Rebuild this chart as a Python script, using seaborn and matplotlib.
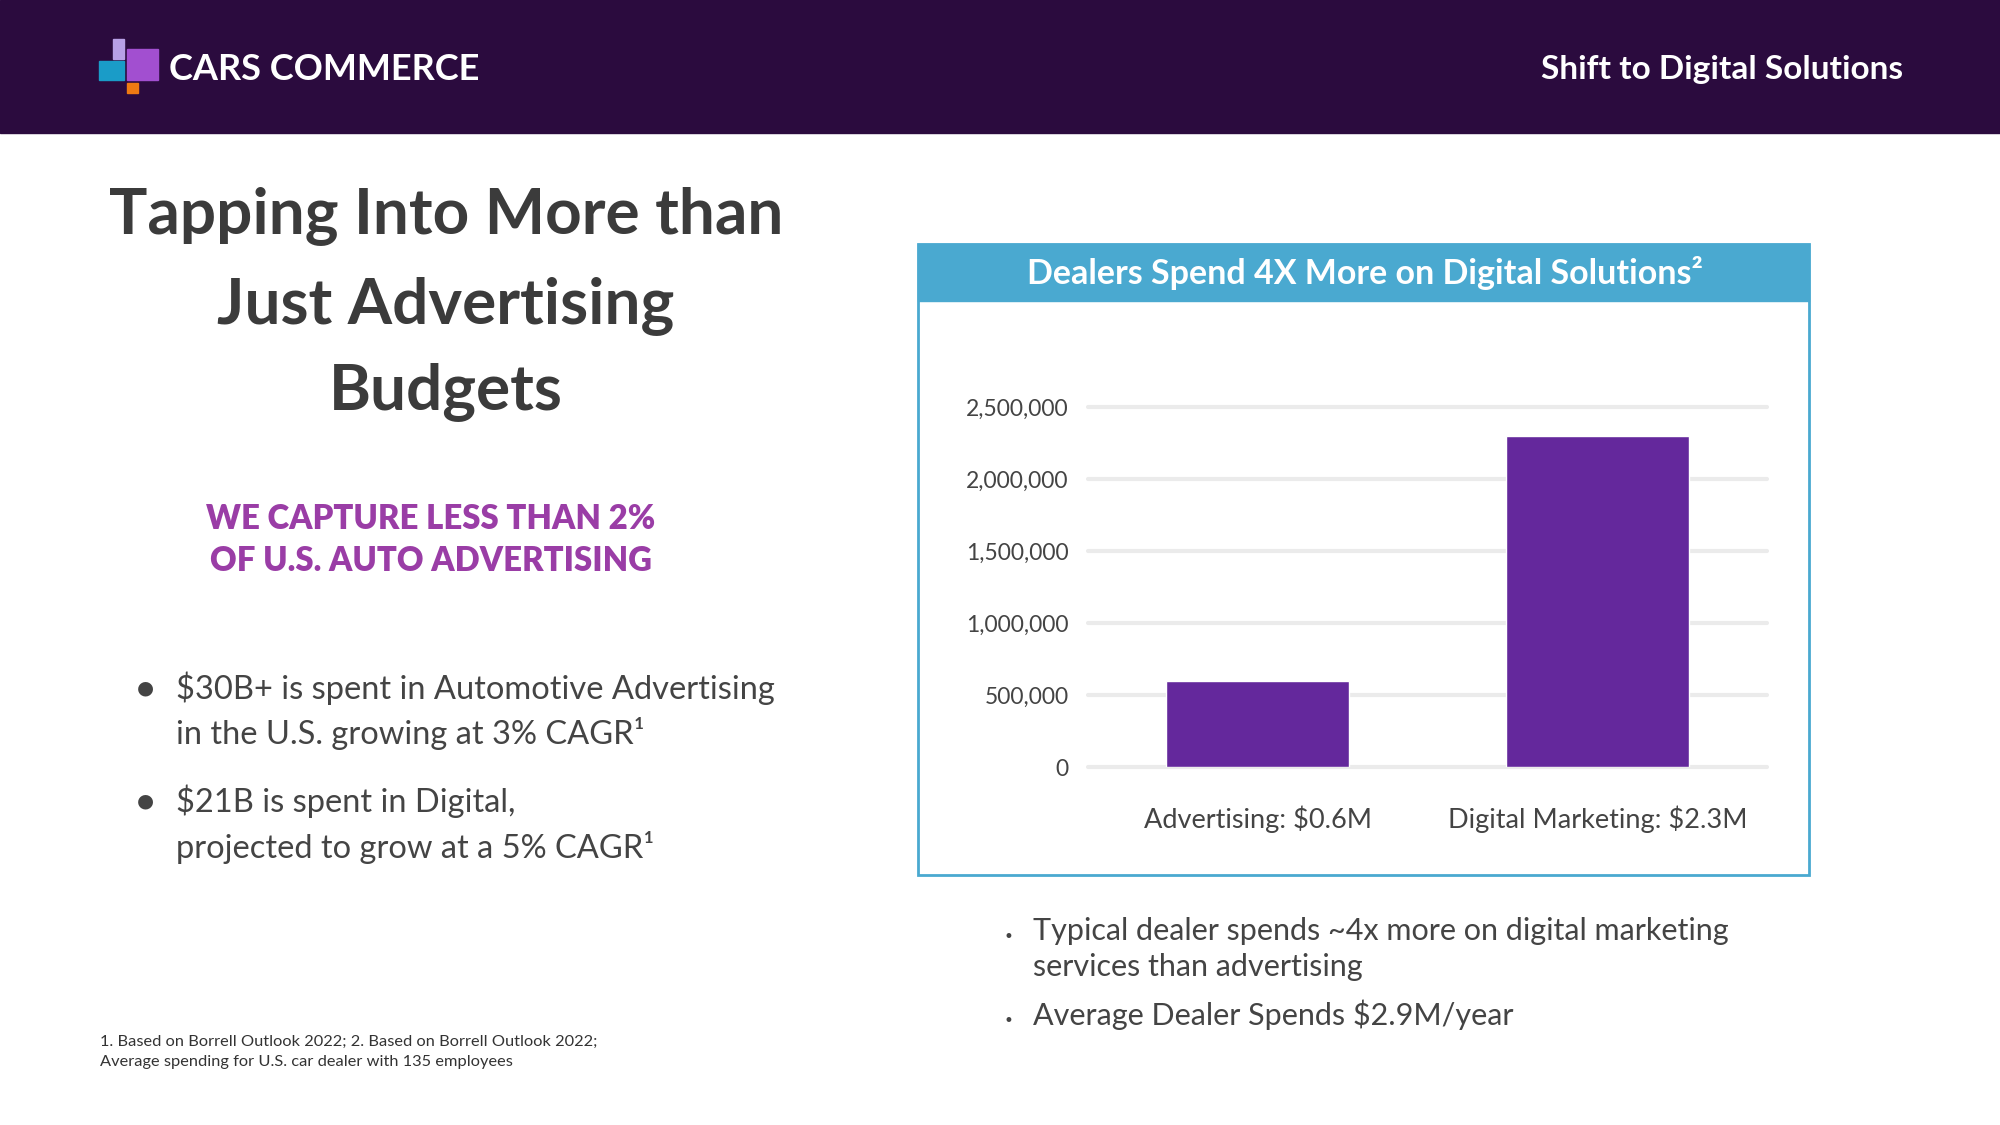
import matplotlib
matplotlib.use("Agg")
import matplotlib.pyplot as plt
from matplotlib.patches import Rectangle
import seaborn as sns
import pandas as pd

# data
categories = ["Advertising: $0.6M", "Digital Marketing: $2.3M"]
spend = [600000, 2300000]
y_ticks = [0, 500000, 1000000, 1500000, 2000000, 2500000]

left_bullets = [
    ["$30B+ is spent in Automotive Advertising", "in the U.S. growing at 3% CAGR¹"],
    ["$21B is spent in Digital,", "projected to grow at a 5% CAGR¹"],
]
right_bullets = [
    ["Typical dealer spends ~4x more on digital marketing", "services than advertising"],
    ["Average Dealer Spends $2.9M/year"],
]

DARK = "#2b0b3e"
BLUE = "#4aa9d0"
BAR = "#64289c"
TXT = "#444444"

sns.set_style("white")
plt.rcParams['font.family'] = ['Lato', 'DejaVu Sans']

W, H = 2000, 1125
fig = plt.figure(figsize=(20, 11.25), dpi=100)


def fx(x):
    return x / W


def fy(y):
    return 1 - y / H


def rect(x0, y0, x1, y1, **kw):
    fig.patches.append(Rectangle((fx(x0), fy(y1)), (x1 - x0) / W, (y1 - y0) / H,
                                 transform=fig.transFigure, **kw))


# header band
rect(0, 0, W, 133, color=DARK, zorder=0)
rect(113, 39, 124, 59, color="#b8a0e6", zorder=1)
rect(99, 61, 124, 80, color="#1a9cc8", zorder=1)
rect(127, 49, 158, 80, color="#a24fd0", zorder=1)
rect(127, 83, 138, 93, color="#ef7a12", zorder=1)
fig.text(fx(169), fy(70), "CARS COMMERCE", color="white", fontsize=26,
         fontweight="bold", va="center", ha="left")
fig.text(fx(1903), fy(70), "Shift to Digital Solutions", color="white", fontsize=24,
         fontweight="bold", va="center", ha="right")

# left headline
for txt, y in zip(["Tapping Into More than", "Just Advertising", "Budgets"], [216, 306, 392]):
    fig.text(fx(446), fy(y), txt, color="#3b3b3b", fontsize=46, fontweight="bold",
             ha="center", va="center")
for txt, y in zip(["WE CAPTURE LESS THAN 2%", "OF U.S. AUTO ADVERTISING"], [519, 561]):
    fig.text(fx(431), fy(y), txt, color="#9a3da6", fontsize=23.7, fontweight="heavy",
             ha="center", va="center")

ys = [[688, 733], [801, 847]]
for lines, yy in zip(left_bullets, ys):
    fig.text(fx(145), fy(yy[0]), "●", color=TXT, fontsize=14, ha="center", va="center",
             family=["DejaVu Sans"])
    for t, y in zip(lines, yy):
        fig.text(fx(176), fy(y), t, color=TXT, fontsize=23.5, ha="left", va="center")

fig.text(fx(100), fy(1042), "1. Based on Borrell Outlook 2022; 2. Based on Borrell Outlook 2022;",
         color="#333333", fontsize=11.8, ha="left", va="center")
fig.text(fx(100), fy(1062), "Average spending for U.S. car dealer with 135 employees",
         color="#333333", fontsize=11.8, ha="left", va="center")

# chart box
rect(918, 244, 1809, 875, facecolor="white", edgecolor=BLUE, linewidth=2, zorder=1)
rect(918, 244, 1809, 301, color=BLUE, zorder=2)
fig.text(fx(1365), fy(273), "Dealers Spend 4X More on Digital Solutions²", color="white",
         fontsize=24.5, fontweight="bold", ha="center", va="center", zorder=3)

ax = fig.add_axes([fx(1088), fy(767), (1767 - 1088) / W, (767 - 407) / H], zorder=4)
ax.patch.set_alpha(0)
df = pd.DataFrame({"category": categories, "spend": spend})
sns.barplot(data=df, x="category", y="spend", color=BAR, width=0.54, saturation=1, ax=ax,
            zorder=3)
ax.set_ylim(0, 2500000)
ax.set_xlim(-0.5, 1.5)
ax.set_yticks(y_ticks)
ax.set_yticklabels([f"{v:,}" for v in y_ticks])
for v in y_ticks:
    ax.axhline(v, color="#ebebeb", lw=3, zorder=1, clip_on=False)
ax.tick_params(axis="y", length=0, pad=14, labelsize=16.5, labelcolor=TXT)
ax.tick_params(axis="x", length=0, pad=28, labelsize=19.5, labelcolor=TXT)
ax.set_xlabel("")
ax.set_ylabel("")
sns.despine(ax=ax, left=True, bottom=True)

# right bullets
ys = [[931, 967], [1015]]
for lines, yy in zip(right_bullets, ys):
    fig.text(fx(1008), fy(yy[0]) - 0.005, "•", color=TXT, fontsize=12, ha="center", va="center",
             family=["DejaVu Sans"])
    for t, y in zip(lines, yy):
        fig.text(fx(1033), fy(y), t, color=TXT, fontsize=22, ha="left", va="center")

fig.savefig("out.png", dpi=100)
